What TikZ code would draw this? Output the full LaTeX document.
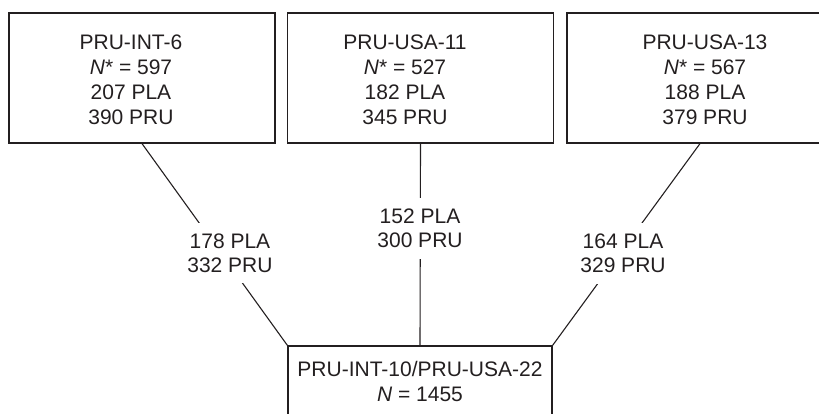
\documentclass[tikz,border=0pt]{standalone}
\usepackage{fontspec}
\setmainfont{Liberation Sans}
\definecolor{ink}{RGB}{35,31,32}
\begin{document}
\begin{tikzpicture}[x=1pt,y=-1pt,
  box/.style={draw=ink, line width=1.2pt, rectangle, inner sep=0pt, minimum width=266pt, minimum height=130pt},
  txt/.style={align=center, text=ink, inner sep=0pt, font=\fontsize{21pt}{25pt}\selectfont},
  lbl/.style={align=center, text=ink, fill=white, inner xsep=6pt, inner ysep=11pt, font=\fontsize{21pt}{24pt}\selectfont},
  conn/.style={draw=ink, line width=1.1pt}]
\useasboundingbox (0,0) rectangle (819,414);
% boxes
\node[box] (b1) at (142,78) {};
\node[box] (b2) at (420.5,78) {};
\node[box] (b3) at (700,78) {};
\node[box, minimum width=264pt, minimum height=100pt] (b4) at (420,396) {};
% box texts
\node[txt] (t1) at (131,80) {PRU-INT-6\\\textit{N}* = 597\\207 PLA\\390 PRU};
\node[txt] (t2) at (405,80) {PRU-USA-11\\\textit{N}* = 527\\182 PLA\\345 PRU};
\node[txt] (t3) at (705,80) {PRU-USA-13\\\textit{N}* = 567\\188 PLA\\379 PRU};
\node[txt] (t4) at (420,381) {PRU-INT-10/PRU-USA-22\\\textit{N} = 1455};
% connectors
\draw[conn] (b1.south) -- (b4.north west);
\draw[conn] (b2.south) -- (b4.north);
\draw[conn] (b3.south) -- (b4.north east);
% connector labels
\node[lbl] (l1) at (230,253) {178 PLA\\332 PRU};
\node[lbl] (l2) at (420,228.5) {152 PLA\\300 PRU};
\node[lbl] (l3) at (623,253.5) {164 PLA\\329 PRU};
\end{tikzpicture}
\end{document}
